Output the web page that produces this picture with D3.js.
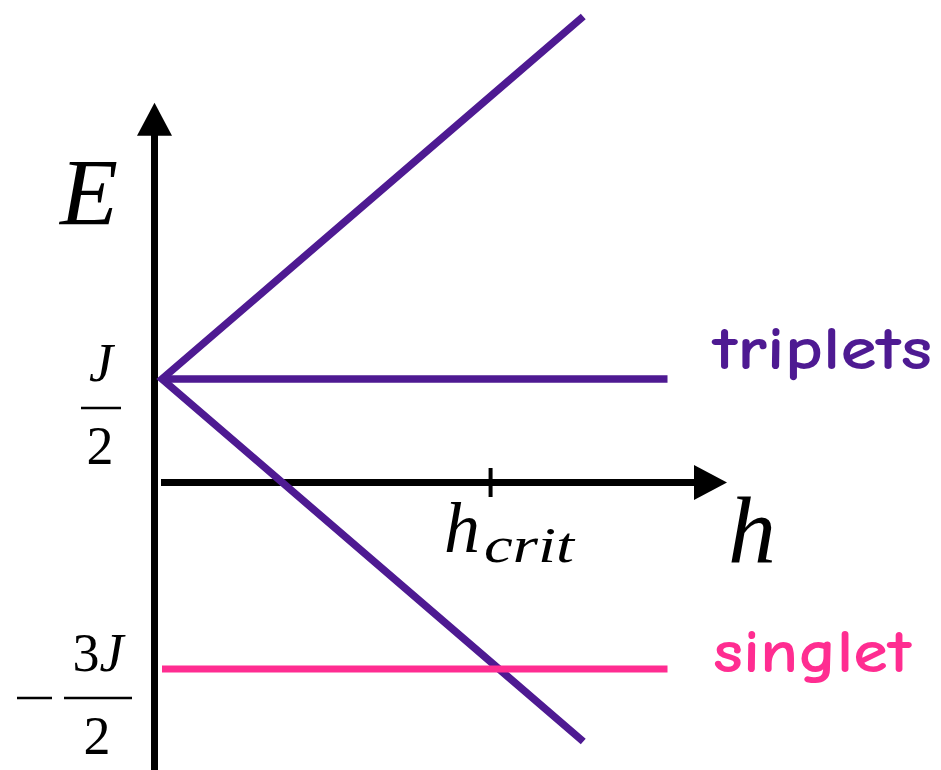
<!DOCTYPE html>
<html>
<head>
<meta charset="utf-8">
<script src="https://cdn.jsdelivr.net/npm/d3@7"></script>
<style>
  html, body { margin: 0; padding: 0; background: #fff; }
  svg { display: block; }
</style>
</head>
<body>
<script>
// Energy levels of a two-spin dimer in a magnetic field h (units of J).
const fieldEnds = [0, 2.5];          // h range of the Zeeman-split triplet branches
const tripletUp = [0.5, 3.0];        // E = J/2 + h
const tripletDown = [0.5, -2.0];     // E = J/2 - h
const flatEnds = [0, 3];             // h range of the field-independent levels
const tripletZero = [0.5, 0.5];      // E = J/2
const singlet = [-1.5, -1.5];        // E = -3J/2
const hTicks = [1.95];               // level crossing h_crit
const eTicks = [
  { value: 0.5, sign: "", num: "J", den: "2" },
  { value: -1.5, sign: "\u2212", num: "3J", den: "2" }
];
const seriesLabels = [
  { text: "triplets", value: 0.5, color: "#4e1a92" },
  { text: "singlet", value: -1.5, color: "#ff2d91" }
];

const W = 941, H = 770;
const purple = "#4e1a92", pink = "#ff2d91";

const svg = d3.select("body").append("svg")
  .attr("width", W).attr("height", H);

const x = d3.scaleLinear().domain([0, 3]).range([162, 667.5]);
const y = d3.scaleLinear().domain([0.5, -1.5]).range([379, 669]);

// axis geometry
const axX = 154.5, axYTop = 102.7, axYBottom = 770;
const haxY = 482.5, haxX0 = 161, haxTip = 727;
const head = 33, halfW = 17.5;

const axes = svg.append("g");
axes.append("line")
  .attr("x1", axX).attr("x2", axX)
  .attr("y1", axYBottom).attr("y2", axYTop + head - 1)
  .attr("stroke", "#000").attr("stroke-width", 7);
axes.append("path")
  .attr("d", `M${axX},${axYTop} L${axX + halfW},${axYTop + head} L${axX - halfW},${axYTop + head} Z`)
  .attr("fill", "#000");
axes.append("line")
  .attr("x1", haxX0).attr("x2", haxTip - head + 1)
  .attr("y1", haxY).attr("y2", haxY)
  .attr("stroke", "#000").attr("stroke-width", 7);
axes.append("path")
  .attr("d", `M${haxTip},${haxY} L${haxTip - head},${haxY - halfW} L${haxTip - head},${haxY + halfW} Z`)
  .attr("fill", "#000");

// h ticks
axes.selectAll("line.tick").data(hTicks).join("line")
  .attr("class", "tick")
  .attr("x1", d => x(d)).attr("x2", d => x(d))
  .attr("y1", haxY - 14.5).attr("y2", haxY + 14.5)
  .attr("stroke", "#000").attr("stroke-width", 4);

// level lines
const line = d3.line().x(d => x(d[0])).y(d => y(d[1]));
const branches = svg.append("g").attr("fill", "none");

branches.append("path")
  .attr("d", line([[fieldEnds[1], tripletUp[1]], [fieldEnds[0], tripletUp[0]], [fieldEnds[1], tripletDown[1]]]))
  .attr("stroke", purple).attr("stroke-width", 7.5)
  .attr("stroke-linejoin", "miter").attr("stroke-miterlimit", 10);
branches.append("path")
  .attr("d", line(flatEnds.map((h, i) => [h, tripletZero[i]])))
  .attr("stroke", purple).attr("stroke-width", 7.5);
branches.append("path")
  .attr("d", line(flatEnds.map((h, i) => [h, singlet[i]])))
  .attr("stroke", pink).attr("stroke-width", 7);

// axis titles
const serif = "'Liberation Serif', 'DejaVu Serif', serif";
svg.append("text").text("E")
  .attr("x", 60).attr("y", 225)
  .attr("font-family", serif).attr("font-style", "italic").attr("font-size", 95);
svg.append("text").text("h")
  .attr("x", 728).attr("y", 562.5)
  .attr("font-family", serif).attr("font-style", "italic").attr("font-size", 96);

// h tick label
svg.append("text").text("h")
  .attr("x", 444).attr("y", 551.5)
  .attr("font-family", serif).attr("font-style", "italic").attr("font-size", 72);
svg.append("text").text("crit")
  .attr("x", 484).attr("y", 561.5)
  .attr("font-family", serif).attr("font-style", "italic").attr("font-size", 50)
  .attr("textLength", 90).attr("lengthAdjust", "spacingAndGlyphs");

// E tick labels as stacked fractions
const fracs = svg.selectAll("g.frac").data(eTicks).join("g").attr("class", "frac");
fracs.each(function (d) {
  const g = d3.select(this);
  const cy = y(d.value) + 29;
  const hasSign = d.sign !== "";
  const cx = hasSign ? 98 : 101;
  const barHalf = hasSign ? 34 : 20;
  g.append("line")
    .attr("x1", cx - barHalf).attr("x2", cx + barHalf)
    .attr("y1", cy).attr("y2", cy)
    .attr("stroke", "#000").attr("stroke-width", 2.4);
  if (hasSign) {
    g.append("line")
      .attr("x1", 17).attr("x2", 52).attr("y1", cy).attr("y2", cy)
      .attr("stroke", "#000").attr("stroke-width", 2.4);
  }
  const numT = g.append("text")
    .attr("x", cx).attr("y", cy - 27)
    .attr("text-anchor", "middle")
    .attr("font-family", serif).attr("font-size", 54);
  for (const ch of d.num) {
    numT.append("tspan").text(ch)
      .attr("font-style", /[A-Za-z]/.test(ch) ? "italic" : "normal");
  }
  g.append("text").text(d.den)
    .attr("x", cx - 1).attr("y", cy + 56)
    .attr("text-anchor", "middle")
    .attr("font-family", serif).attr("font-size", 54);
});

// series labels
const widths = { triplets: 219, singlet: 198 };
svg.selectAll("text.series").data(seriesLabels).join("text")
  .attr("class", "series")
  .text(d => d.text)
  .attr("x", 713)
  .attr("y", d => y(d.value) - 10.5 + (d.text === "singlet" ? 13 : 0))
  .attr("fill", d => d.color)
  .attr("font-family", "'Comic Sans MS', 'Comic Neue', 'Noto Sans', sans-serif")
  .attr("font-weight", 600)
  .attr("font-size", 60)
  .attr("textLength", d => widths[d.text])
  .attr("lengthAdjust", "spacingAndGlyphs");
</script>
</body>
</html>
